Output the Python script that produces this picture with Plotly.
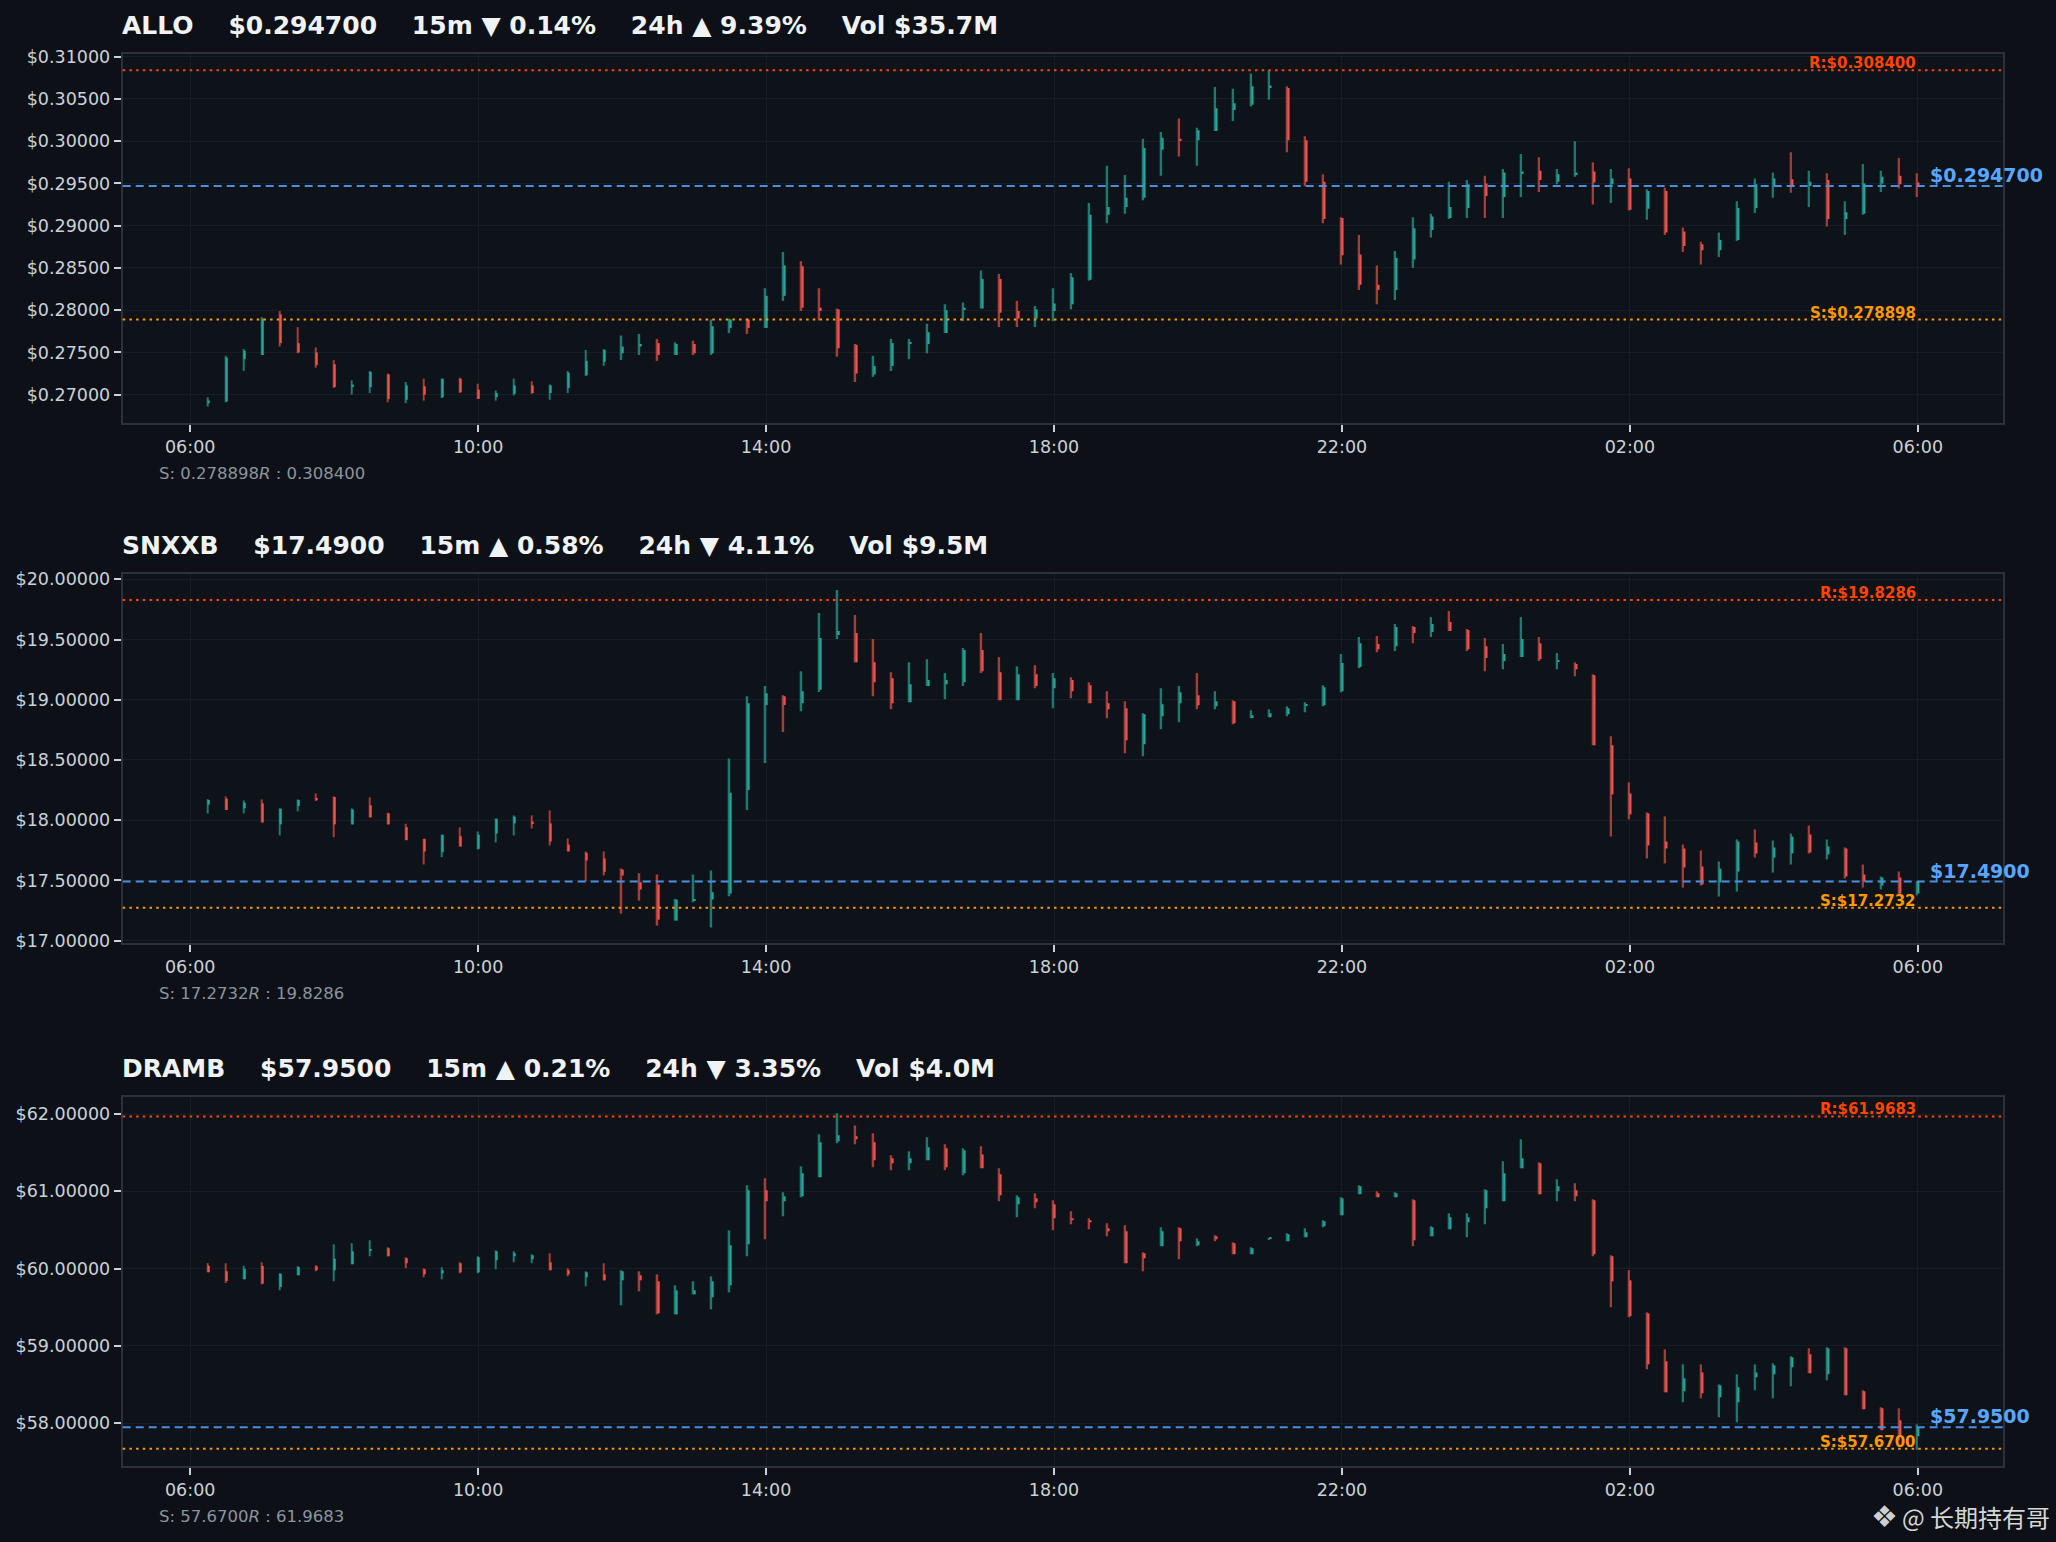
import pandas as pd
import plotly.graph_objects as go
from plotly.subplots import make_subplots

W, H = 2056, 1542

# 15 minute candles, 06:15 -> 06:00 next day
times = pd.date_range("2025-01-01 06:15", periods=96, freq="15min")

# ---- ALLO ----
allo_open = [0.2690, 0.2692, 0.2742, 0.2747, 0.2795, 0.2761, 0.2750, 0.2736, 0.2709, 0.2709, 0.2724, 0.2694,
             0.2710, 0.2697, 0.2719, 0.2706, 0.2697, 0.2701, 0.2711, 0.2702, 0.2708, 0.2723, 0.2739, 0.2749,
             0.2757, 0.2761, 0.2747, 0.2760, 0.2749, 0.2779, 0.2789, 0.2779, 0.2817, 0.2852, 0.2803, 0.2801,
             0.2759, 0.2724, 0.2734, 0.2760, 0.2760, 0.2773, 0.2801, 0.2802, 0.2837, 0.2799, 0.2790, 0.2799,
             0.2807, 0.2836, 0.2913, 0.2922, 0.2933, 0.2990, 0.3003, 0.3001, 0.3012, 0.3037, 0.3043, 0.3063,
             0.3063, 0.3001, 0.2952, 0.2909, 0.2866, 0.2830, 0.2824, 0.2860, 0.2895, 0.2909, 0.2921, 0.2950,
             0.2934, 0.2962, 0.2965, 0.2952, 0.2961, 0.2964, 0.2949, 0.2956, 0.2920, 0.2941, 0.2893, 0.2878,
             0.2871, 0.2883, 0.2921, 0.2948, 0.2955, 0.2947, 0.2954, 0.2908, 0.2914, 0.2950, 0.2959, 0.2951]
allo_high = [0.2697, 0.2746, 0.2754, 0.2792, 0.2799, 0.2780, 0.2756, 0.2741, 0.2717, 0.2728, 0.2725, 0.2715,
             0.2719, 0.2719, 0.2720, 0.2713, 0.2705, 0.2719, 0.2716, 0.2712, 0.2728, 0.2753, 0.2754, 0.2770,
             0.2772, 0.2766, 0.2762, 0.2764, 0.2789, 0.2790, 0.2790, 0.2826, 0.2869, 0.2858, 0.2826, 0.2802,
             0.2760, 0.2746, 0.2766, 0.2766, 0.2784, 0.2807, 0.2809, 0.2847, 0.2843, 0.2811, 0.2805, 0.2826,
             0.2844, 0.2927, 0.2971, 0.2960, 0.3003, 0.3011, 0.3027, 0.3016, 0.3064, 0.3062, 0.3080, 0.3084,
             0.3065, 0.3006, 0.2961, 0.2910, 0.2889, 0.2853, 0.2870, 0.2910, 0.2914, 0.2952, 0.2954, 0.2959,
             0.2967, 0.2985, 0.2981, 0.2967, 0.3000, 0.2975, 0.2967, 0.2968, 0.2943, 0.2945, 0.2898, 0.2881,
             0.2892, 0.2929, 0.2956, 0.2963, 0.2987, 0.2965, 0.2962, 0.2929, 0.2973, 0.2965, 0.2980, 0.2962]
allo_low = [0.2686, 0.2691, 0.2728, 0.2747, 0.2757, 0.2749, 0.2732, 0.2708, 0.2700, 0.2702, 0.2691, 0.2690,
            0.2693, 0.2696, 0.2702, 0.2695, 0.2693, 0.2699, 0.2701, 0.2694, 0.2702, 0.2722, 0.2734, 0.2741,
            0.2747, 0.2740, 0.2747, 0.2747, 0.2747, 0.2773, 0.2772, 0.2779, 0.2811, 0.2799, 0.2788, 0.2745,
            0.2715, 0.2721, 0.2728, 0.2742, 0.2749, 0.2773, 0.2787, 0.2802, 0.2780, 0.2780, 0.2780, 0.2787,
            0.2801, 0.2835, 0.2903, 0.2914, 0.2930, 0.2959, 0.2982, 0.2971, 0.3012, 0.3024, 0.3041, 0.3049,
            0.2987, 0.2947, 0.2903, 0.2854, 0.2824, 0.2807, 0.2812, 0.2850, 0.2886, 0.2908, 0.2909, 0.2909,
            0.2909, 0.2934, 0.2940, 0.2949, 0.2958, 0.2925, 0.2927, 0.2918, 0.2907, 0.2889, 0.2869, 0.2854,
            0.2863, 0.2882, 0.2915, 0.2933, 0.2939, 0.2922, 0.2899, 0.2889, 0.2913, 0.2940, 0.2944, 0.2934]
allo_close = [0.2693, 0.2744, 0.2752, 0.2790, 0.2761, 0.2750, 0.2735, 0.2709, 0.2712, 0.2727, 0.2695, 0.2711,
              0.2700, 0.2719, 0.2703, 0.2695, 0.2702, 0.2711, 0.2702, 0.2711, 0.2726, 0.2740, 0.2753, 0.2757,
              0.2760, 0.2747, 0.2760, 0.2749, 0.2781, 0.2789, 0.2779, 0.2817, 0.2853, 0.2803, 0.2799, 0.2755,
              0.2725, 0.2734, 0.2761, 0.2762, 0.2774, 0.2800, 0.2803, 0.2837, 0.2797, 0.2790, 0.2801, 0.2808,
              0.2839, 0.2913, 0.2922, 0.2933, 0.2992, 0.3004, 0.3001, 0.3013, 0.3039, 0.3045, 0.3065, 0.3066,
              0.3001, 0.2952, 0.2908, 0.2865, 0.2830, 0.2824, 0.2862, 0.2897, 0.2911, 0.2922, 0.2949, 0.2935,
              0.2963, 0.2964, 0.2954, 0.2961, 0.2963, 0.2951, 0.2956, 0.2919, 0.2941, 0.2892, 0.2876, 0.2871,
              0.2883, 0.2921, 0.2949, 0.2956, 0.2946, 0.2952, 0.2908, 0.2916, 0.2950, 0.2958, 0.2949, 0.2947]
allo_last, allo_support, allo_resist = 0.294700, 0.278898, 0.308400
allo_stats = ["▼ 0.14%", "▲ 9.39%", "$35.7M"]

# ---- SNXXB ----
snx_open = [18.131, 18.178, 18.098, 18.139, 17.965, 18.117, 18.184, 18.192, 17.965, 18.123, 18.056, 17.942,
            17.845, 17.734, 17.867, 17.762, 17.890, 17.973, 17.989, 17.973, 17.798, 17.729, 17.682, 17.590,
            17.485, 17.465, 17.166, 17.330, 17.341, 17.390, 18.250, 18.957, 19.029, 18.971, 19.082, 19.537,
            19.554, 19.312, 19.179, 18.979, 19.115, 19.129, 19.146, 19.412, 19.229, 18.996, 19.212, 19.096,
            19.163, 19.121, 18.971, 18.930, 18.630, 18.863, 18.971, 19.038, 18.946, 18.988, 18.855, 18.855,
            18.880, 18.955, 18.955, 19.071, 19.271, 19.462, 19.445, 19.603, 19.562, 19.645, 19.578, 19.445,
            19.321, 19.354, 19.470, 19.318, 19.296, 19.204, 18.622, 18.222, 18.056, 17.823, 17.765, 17.615,
            17.482, 17.573, 17.815, 17.690, 17.723, 17.881, 17.715, 17.765, 17.549, 17.457, 17.524, 17.390]
snx_high = [18.173, 18.197, 18.164, 18.172, 18.098, 18.172, 18.222, 18.197, 18.098, 18.189, 18.062, 17.970,
            17.845, 17.879, 17.940, 17.906, 18.014, 18.039, 18.039, 18.081, 17.848, 17.740, 17.740, 17.598,
            17.560, 17.549, 17.346, 17.549, 17.582, 18.511, 19.029, 19.113, 19.038, 19.237, 19.720, 19.911,
            19.703, 19.504, 19.229, 19.312, 19.337, 19.221, 19.429, 19.554, 19.354, 19.279, 19.287, 19.221,
            19.187, 19.146, 19.071, 18.988, 18.888, 19.096, 19.113, 19.221, 19.071, 18.996, 18.913, 18.921,
            18.946, 18.979, 19.121, 19.379, 19.520, 19.529, 19.628, 19.612, 19.687, 19.737, 19.587, 19.512,
            19.462, 19.687, 19.520, 19.387, 19.312, 19.212, 18.697, 18.314, 18.064, 18.031, 17.798, 17.748,
            17.657, 17.840, 17.923, 17.831, 17.890, 17.956, 17.840, 17.773, 17.632, 17.532, 17.573, 17.490]
snx_low = [18.056, 18.084, 18.056, 17.981, 17.873, 18.073, 18.160, 17.859, 17.965, 18.023, 17.965, 17.834,
           17.632, 17.693, 17.781, 17.757, 17.815, 17.873, 17.931, 17.790, 17.740, 17.490, 17.540, 17.224,
           17.332, 17.124, 17.166, 17.318, 17.108, 17.368, 18.084, 18.475, 18.733, 18.905, 19.065, 19.504,
           19.312, 19.029, 18.921, 18.979, 19.113, 19.004, 19.113, 19.221, 18.996, 18.996, 19.096, 18.930,
           19.013, 18.971, 18.846, 18.555, 18.530, 18.755, 18.813, 18.921, 18.921, 18.796, 18.846, 18.855,
           18.863, 18.896, 18.946, 19.063, 19.262, 19.395, 19.404, 19.470, 19.520, 19.570, 19.404, 19.237,
           19.254, 19.354, 19.321, 19.254, 19.196, 18.622, 17.865, 18.006, 17.682, 17.640, 17.440, 17.457,
           17.366, 17.407, 17.690, 17.565, 17.632, 17.723, 17.673, 17.515, 17.440, 17.424, 17.382, 17.374]
snx_close = [18.167, 18.084, 18.145, 17.981, 18.095, 18.167, 18.165, 17.965, 18.089, 18.023, 17.965, 17.834,
             17.740, 17.879, 17.781, 17.879, 18.012, 18.028, 17.973, 17.823, 17.740, 17.665, 17.571, 17.540,
             17.424, 17.174, 17.341, 17.341, 17.402, 18.228, 18.971, 19.054, 18.957, 19.071, 19.512, 19.570,
             19.312, 19.146, 18.971, 19.129, 19.163, 19.163, 19.412, 19.237, 18.996, 19.212, 19.113, 19.179,
             19.071, 18.971, 18.921, 18.663, 18.880, 18.963, 19.063, 18.955, 18.988, 18.805, 18.871, 18.888,
             18.930, 18.963, 19.104, 19.304, 19.470, 19.420, 19.603, 19.554, 19.628, 19.570, 19.420, 19.346,
             19.379, 19.504, 19.337, 19.323, 19.254, 18.622, 18.214, 18.048, 17.790, 17.765, 17.607, 17.465,
             17.598, 17.823, 17.723, 17.773, 17.865, 17.732, 17.781, 17.532, 17.490, 17.524, 17.390, 17.490]
snx_last, snx_support, snx_resist = 17.4900, 17.2732, 19.8286
snx_stats = ["▲ 0.58%", "▼ 4.11%", "$9.5M"]

# ---- DRAMB ----
dram_open = [60.039, 59.966, 59.862, 60.034, 59.763, 59.914, 60.030, 59.978, 60.056, 60.240, 60.263, 60.134,
             59.991, 59.940, 60.069, 59.953, 60.108, 60.160, 60.121, 60.082, 59.978, 59.888, 59.927, 59.849,
             59.914, 59.836, 59.409, 59.668, 59.629, 59.784, 60.315, 61.013, 60.871, 60.935, 61.181, 61.647,
             61.711, 61.634, 61.427, 61.362, 61.401, 61.556, 61.233, 61.478, 61.220, 60.832, 60.909, 60.832,
             60.651, 60.625, 60.522, 60.483, 60.198, 60.289, 60.522, 60.302, 60.418, 60.328, 60.185, 60.385,
             60.353, 60.405, 60.547, 60.690, 60.961, 60.974, 60.922, 60.884, 60.418, 60.509, 60.599, 60.780,
             60.871, 61.297, 61.362, 61.000, 61.013, 60.884, 60.160, 59.849, 59.422, 58.802, 58.414, 58.659,
             58.336, 58.272, 58.595, 58.634, 58.724, 58.892, 58.634, 58.970, 58.414, 58.194, 58.039, 57.832]
dram_high = [60.069, 60.069, 60.039, 60.082, 59.940, 60.030, 60.043, 60.315, 60.328, 60.366, 60.276, 60.147,
             60.004, 60.017, 60.082, 60.160, 60.237, 60.224, 60.185, 60.198, 60.004, 59.966, 60.069, 59.978,
             59.966, 59.927, 59.784, 59.836, 59.901, 60.496, 61.078, 61.168, 60.987, 61.323, 61.737, 62.009,
             61.853, 61.750, 61.466, 61.517, 61.698, 61.608, 61.556, 61.582, 61.297, 60.948, 60.974, 60.884,
             60.741, 60.651, 60.586, 60.560, 60.211, 60.534, 60.534, 60.392, 60.431, 60.341, 60.276, 60.395,
             60.457, 60.522, 60.625, 60.922, 61.078, 61.000, 60.987, 60.897, 60.547, 60.716, 60.716, 61.026,
             61.388, 61.672, 61.375, 61.155, 61.103, 60.897, 60.172, 59.978, 59.435, 58.957, 58.763, 58.763,
             58.504, 58.634, 58.763, 58.776, 58.866, 58.970, 58.983, 58.983, 58.427, 58.207, 58.194, 57.987]
dram_low = [59.953, 59.815, 59.862, 59.797, 59.720, 59.914, 59.966, 59.836, 60.056, 60.160, 60.160, 60.004,
            59.888, 59.862, 59.940, 59.940, 59.991, 60.082, 60.069, 59.978, 59.901, 59.772, 59.849, 59.526,
            59.707, 59.409, 59.409, 59.668, 59.474, 59.694, 60.160, 60.379, 60.677, 60.922, 61.181, 61.621,
            61.608, 61.310, 61.272, 61.272, 61.401, 61.272, 61.207, 61.297, 60.871, 60.664, 60.780, 60.496,
            60.573, 60.509, 60.418, 60.069, 59.966, 60.289, 60.121, 60.289, 60.353, 60.185, 60.185, 60.383,
            60.353, 60.405, 60.534, 60.690, 60.961, 60.922, 60.922, 60.289, 60.418, 60.509, 60.405, 60.573,
            60.871, 61.297, 60.961, 60.871, 60.871, 60.160, 59.500, 59.371, 58.698, 58.401, 58.272, 58.323,
            58.078, 58.013, 58.427, 58.323, 58.478, 58.647, 58.556, 58.362, 58.181, 57.909, 57.780, 57.659]
dram_close = [59.953, 59.841, 60.000, 59.806, 59.935, 60.022, 59.978, 60.129, 60.224, 60.250, 60.160, 60.069,
              59.927, 59.978, 59.953, 60.147, 60.224, 60.198, 60.172, 59.978, 59.927, 59.953, 59.849, 59.966,
              59.849, 59.422, 59.720, 59.720, 59.836, 60.302, 61.013, 60.871, 60.935, 61.233, 61.634, 61.724,
              61.672, 61.401, 61.362, 61.427, 61.569, 61.310, 61.530, 61.297, 60.948, 60.922, 60.858, 60.651,
              60.625, 60.599, 60.483, 60.069, 60.134, 60.483, 60.353, 60.353, 60.379, 60.185, 60.263, 60.392,
              60.444, 60.470, 60.612, 60.909, 61.065, 60.922, 60.974, 60.366, 60.534, 60.664, 60.664, 61.013,
              61.233, 61.427, 60.961, 61.065, 60.935, 60.185, 59.836, 59.384, 58.763, 58.401, 58.582, 58.388,
              58.491, 58.466, 58.659, 58.750, 58.853, 58.647, 58.970, 58.362, 58.181, 57.909, 57.832, 57.950]
dram_last, dram_support, dram_resist = 57.9500, 57.6700, 61.9683
dram_stats = ["▲ 0.21%", "▼ 3.35%", "$4.0M"]

panels = [
    dict(sym="ALLO", o=allo_open, h=allo_high, l=allo_low, c=allo_close, last=allo_last,
         sup=allo_support, res=allo_resist, stats=allo_stats, dec=6,
         yrange=[0.26665, 0.31032], dtick=0.005, tick0=0.27, top=54),
    dict(sym="SNXXB", o=snx_open, h=snx_high, l=snx_low, c=snx_close, last=snx_last,
         sup=snx_support, res=snx_resist, stats=snx_stats, dec=4,
         yrange=[16.98, 20.044], dtick=0.5, tick0=17.0, top=574),
    dict(sym="DRAMB", o=dram_open, h=dram_high, l=dram_low, c=dram_close, last=dram_last,
         sup=dram_support, res=dram_resist, stats=dram_stats, dec=4,
         yrange=[57.448, 62.22], dtick=1.0, tick0=58.0, top=1097),
]

BG = "#0d1117"
UP, DOWN = "#26a69a", "#ef5350"
UP_WICK, DOWN_WICK = "#1c7a70", "#a53d3b"
FONT = "DejaVu Sans"
PANEL_H = 369
X0, X1 = 122.7, 2003.3
MS_PER_PX = 3600000 / 72  # 72 px per hour on the time axis

fig = make_subplots(rows=3, cols=1)

for k, p in enumerate(panels):
    row = k + 1
    n = "" if row == 1 else str(row)
    top = p["top"]
    bot = top + PANEL_H
    min_body = (p["yrange"][1] - p["yrange"][0]) / PANEL_H

    up = [c >= o for o, c in zip(p["o"], p["c"])]
    fig.add_trace(go.Bar(
        x=times, y=[h - l for h, l in zip(p["h"], p["l"])], base=p["l"],
        width=1.5 * MS_PER_PX, offset=-1.4 * MS_PER_PX,
        marker=dict(color=[UP_WICK if u else DOWN_WICK for u in up], line=dict(width=0)),
        hoverinfo="skip", showlegend=False), row=row, col=1)
    fig.add_trace(go.Bar(
        x=times, y=[max(abs(c - o), min_body) for o, c in zip(p["o"], p["c"])],
        base=[min(o, c) for o, c in zip(p["o"], p["c"])],
        width=2.2 * MS_PER_PX, offset=-0.6 * MS_PER_PX,
        marker=dict(color=[UP if u else DOWN for u in up], line=dict(width=0)),
        hoverinfo="skip", showlegend=False), row=row, col=1)

    # resistance / support / last price lines
    fig.add_hline(y=p["res"], line=dict(color="#ff4500", width=2, dash="2.5px,4.2px"), row=row, col=1)
    fig.add_hline(y=p["sup"], line=dict(color="#ff9800", width=2, dash="2.5px,4.2px"), row=row, col=1)
    fig.add_hline(y=p["last"], line=dict(color="#4a8fdf", width=2, dash="8px,5px"), row=row, col=1)

    d = p["dec"]
    fig.add_annotation(x=times[-1], y=p["res"], xref=f"x{n}", yref=f"y{n}",
                       text=f"<b>R:${p['res']:.{d}f}</b>", showarrow=False,
                       xanchor="right", yanchor="bottom", yshift=-4,
                       font=dict(family=FONT, size=15, color="#ff4500"))
    fig.add_annotation(x=times[-1], y=p["sup"], xref=f"x{n}", yref=f"y{n}",
                       text=f"<b>S:${p['sup']:.{d}f}</b>", showarrow=False,
                       xanchor="right", yanchor="bottom", yshift=-4,
                       font=dict(family=FONT, size=15, color="#ff9800"))
    fig.add_annotation(x=times[-1], y=p["last"], xref=f"x{n}", yref=f"y{n}",
                       text=f"<b>${p['last']:.{d}f}</b>", showarrow=False,
                       xanchor="left", yanchor="bottom", xshift=10, yshift=-2,
                       font=dict(family=FONT, size=19, color="#58a6ff"))

    gap = "\u00a0" * 4
    s15, s24, vol = p["stats"]
    title = (f"<b>{p['sym']}{gap}${p['last']:.{d}f}{gap}15m {s15}{gap}"
             f"24h {s24}{gap}Vol {vol}</b>")
    fig.add_annotation(x=(X0 - 3) / W, y=1 - (top - 29) / H, xref="paper", yref="paper",
                       text=title, showarrow=False, xanchor="left", yanchor="middle",
                       font=dict(family=FONT, size=25, color="#f0f3f6"))
    fig.add_annotation(x=157 / W, y=1 - (bot + 50) / H, xref="paper", yref="paper",
                       text=f"S: {p['sup']:.{d}f}<i>R</i> : {p['res']:.{d}f}", showarrow=False,
                       xanchor="left", yanchor="middle",
                       font=dict(family=FONT, size=16.5, color="#8b949e"))

    fig.update_xaxes(
        row=row, col=1, type="date", domain=[X0 / W, X1 / W],
        range=["2025-01-01 05:03:45", "2025-01-02 07:11:15"],
        tick0="2025-01-01 02:00", dtick=4 * 3600000, tickformat="%H:%M",
        ticks="outside", ticklen=7, tickwidth=2, tickcolor="#c9d1d9",
        tickfont=dict(family=FONT, size=17.5, color="#c9d1d9"),
        showgrid=True, gridcolor="#181d25", gridwidth=1, zeroline=False,
        showline=True, mirror=True, linecolor="#2b313b", linewidth=2, automargin=False)
    fig.update_yaxes(
        row=row, col=1, domain=[1 - bot / H, 1 - top / H], range=p["yrange"],
        tick0=p["tick0"], dtick=p["dtick"], tickprefix="$", tickformat=".5f",
        ticks="outside", ticklen=7, tickwidth=2, tickcolor="#c9d1d9",
        tickfont=dict(family=FONT, size=17.5, color="#c9d1d9"),
        showgrid=True, gridcolor="#181d25", gridwidth=1, zeroline=False,
        showline=True, mirror=True, linecolor="#2b313b", linewidth=2, automargin=False)

# watermark
fig.add_annotation(x=1884 / W, y=1 - 1516 / H, xref="paper", yref="paper", text="❖",
                   showarrow=False, xanchor="center", yanchor="middle",
                   font=dict(family=FONT, size=30, color="#cfcfcf"))
fig.add_annotation(x=1900 / W, y=1 - 1516 / H, xref="paper", yref="paper", text="@ 长期持有哥",
                   showarrow=False, xanchor="left", yanchor="middle",
                   font=dict(family="Noto Sans CJK SC", size=24, color="#d6d6d6"))

fig.update_layout(
    width=W, height=H, margin=dict(l=0, r=0, t=0, b=0),
    paper_bgcolor=BG, plot_bgcolor="#0e1219",
    barmode="overlay", showlegend=False,
    font=dict(family=FONT, color="#c9d1d9"),
)

fig.write_html("out.html", config={"displayModeBar": False},
               post_script="document.body.style.margin='0';")
